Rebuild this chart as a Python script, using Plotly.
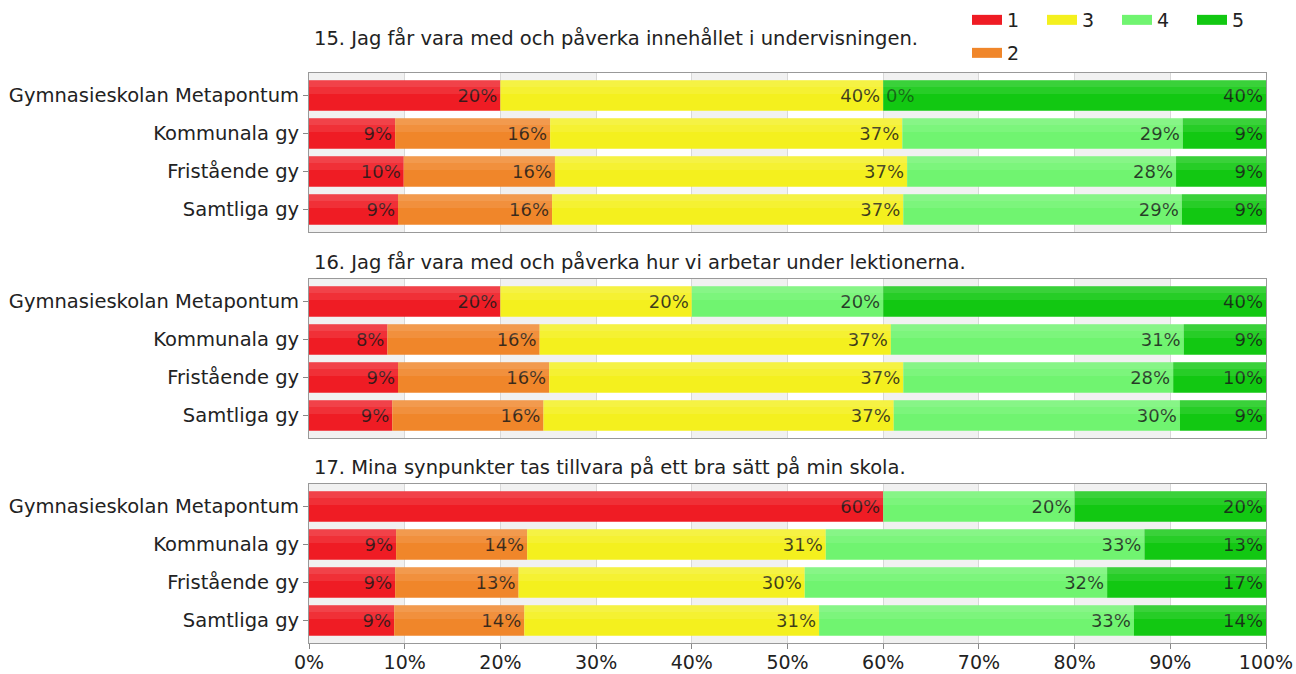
import plotly.graph_objects as go

categories = ["Gymnasieskolan Metapontum", "Kommunala gy", "Fristående gy", "Samtliga gy"]
levels = ["1", "2", "3", "4", "5"]
titles = [
    "15. Jag får vara med och påverka innehållet i undervisningen.",
    "16. Jag får vara med och påverka hur vi arbetar under lektionerna.",
    "17. Mina synpunkter tas tillvara på ett bra sätt på min skola.",
]

q15_l1 = [20, 9.0, 9.9, 9.3]
q15_l2 = [None, 16.2, 15.8, 16.1]
q15_l3 = [40, 36.8, 36.8, 36.7]
q15_l4 = [0, 29.3, 28.1, 29.1]
q15_l5 = [40, 8.7, 9.4, 8.8]

q16_l1 = [20, 8.2, 9.3, 8.7]
q16_l2 = [None, 15.9, 15.8, 15.8]
q16_l3 = [20, 36.7, 37.0, 36.6]
q16_l4 = [20, 30.6, 28.2, 29.9]
q16_l5 = [40, 8.6, 9.7, 9.0]

q17_l1 = [60, 9.1, 9.0, 8.9]
q17_l2 = [None, 13.7, 12.9, 13.6]
q17_l3 = [None, 31.2, 29.9, 30.8]
q17_l4 = [20, 33.3, 31.6, 32.9]
q17_l5 = [20, 12.7, 16.6, 13.8]

questions = [
    [q15_l1, q15_l2, q15_l3, q15_l4, q15_l5],
    [q16_l1, q16_l2, q16_l3, q16_l4, q16_l5],
    [q17_l1, q17_l2, q17_l3, q17_l4, q17_l5],
]

colors = ["#ef1c24", "#f0862a", "#f4f01e", "#70f470", "#12c812"]
legend_of = ["legend", "legend2", "legend", "legend", "legend"]

W, H = 1296, 674
ML, MR, MT, MB = 309, 30, 73, 31
PW = W - ML - MR
PH = H - MT - MB
panels_px = [(73, 232), (279, 438), (484, 643)]
title_px = [38, 262, 468]
FONT = "DejaVu Sans, Verdana, sans-serif"
BAR_W = 0.8
CAT_PAD = 0.59
GLOSS = [(0.45, "rgba(255,255,255,0.09)"), (0.22, "rgba(255,255,255,0.09)")]


def py(p):
    return (H - MB - p) / PH


def px_(p):
    return (p - ML) / PW


fig = go.Figure()
layout_axes = {}
shapes = []
annotations = []

# legend-only entries with wide rectangular swatches
for li in range(5):
    fig.add_trace(go.Scatter(
        x=[None], y=[None], mode="lines", name=levels[li],
        legendgroup=levels[li], legend=legend_of[li],
        line=dict(color=colors[li], width=15), hoverinfo="skip"))

for qi, series in enumerate(questions):
    xa = "x" if qi == 0 else f"x{qi+1}"
    ya = "y" if qi == 0 else f"y{qi+1}"
    cum = [0.0] * len(categories)
    for li, vals in enumerate(series):
        base = [round(c, 6) for c in cum]
        fig.add_trace(go.Bar(
            y=categories, x=vals, base=base, orientation="h",
            name=levels[li], legendgroup=levels[li], showlegend=False,
            width=BAR_W, offset=-BAR_W / 2,
            marker=dict(color=colors[li], line=dict(width=0)),
            texttemplate="%{x:.0f}%", textposition="inside",
            insidetextanchor="end", textangle=0, constraintext="none",
            textfont=dict(family=FONT, size=18, color="rgba(25,25,25,0.85)"),
            xaxis=xa, yaxis=ya, cliponaxis=False,
            hovertemplate="%{y}: %{x:.0f}%<extra>" + levels[li] + "</extra>",
        ))
        # subtle glossy highlight on the upper part of each segment
        for frac, gcol in GLOSS:
            fig.add_trace(go.Bar(
                y=categories, x=vals, base=base, orientation="h",
                legendgroup=levels[li], showlegend=False,
                width=BAR_W * frac, offset=-BAR_W / 2,
                marker=dict(color=gcol, line=dict(width=0)),
                xaxis=xa, yaxis=ya, hoverinfo="skip", cliponaxis=False,
            ))
        for ci, v in enumerate(vals):
            if v is None:
                continue
            if v == 0:
                annotations.append(dict(
                    x=base[ci], y=categories[ci], xref=xa, yref=ya, text="0%",
                    showarrow=False, xanchor="left", xshift=1,
                    font=dict(family=FONT, size=18, color="rgba(20,20,20,0.55)")))
            cum[ci] += v
    top, bot = panels_px[qi]
    axkey = "xaxis" if qi == 0 else f"xaxis{qi+1}"
    aykey = "yaxis" if qi == 0 else f"yaxis{qi+1}"
    layout_axes[axkey] = dict(
        domain=[0, 1], anchor=ya, range=[0, 100], dtick=10, ticksuffix="%",
        showticklabels=(qi == 2), ticks="outside" if qi == 2 else "", ticklen=5,
        ticklabelstandoff=-3,
        tickcolor="#888", showgrid=True, gridcolor="#d8d8d8", gridwidth=1,
        showline=True, linecolor="#999", linewidth=1, mirror=True, zeroline=False,
        tickfont=dict(family=FONT, size=19, color="#222"), automargin=False,
        matches="x" if qi > 0 else None,
    )
    layout_axes[aykey] = dict(
        type="category", categoryorder="array", categoryarray=categories,
        domain=[py(bot), py(top)], anchor=xa,
        range=[len(categories) - 1 + CAT_PAD, -CAT_PAD],
        ticks="outside", ticklen=5, tickcolor="#888", automargin=False,
        showline=True, linecolor="#999", linewidth=1, mirror=True,
        tickfont=dict(family=FONT, size=19.5, color="#222"),
    )
    for b in range(0, 100, 20):
        shapes.append(dict(type="rect", xref=xa, yref=f"{ya} domain",
                           x0=b, x1=b + 10, y0=0, y1=1, fillcolor="#f1f1f1",
                           line=dict(width=0), layer="below"))
    annotations.append(dict(
        x=0, y=py(title_px[qi]), xref="paper", yref="paper", xanchor="left",
        yanchor="middle", xshift=3, text=titles[qi], showarrow=False,
        font=dict(family=FONT, size=19.5, color="#222")))

legend_common = dict(orientation="h", xanchor="left", yanchor="top",
                     entrywidth=30, itemwidth=30, bgcolor="rgba(0,0,0,0)",
                     font=dict(family=FONT, size=19, color="#222"))

fig.update_layout(
    width=W, height=H,
    margin=dict(l=ML, r=MR, t=MT, b=MB, autoexpand=False),
    barmode="overlay",
    plot_bgcolor="white", paper_bgcolor="white",
    font=dict(family=FONT, size=18, color="#222"),
    legend=dict(x=px_(967), y=py(1), **legend_common),
    legend2=dict(x=px_(967), y=py(34), **legend_common),
    shapes=shapes, annotations=annotations,
    **layout_axes,
)

fig.write_html("out.html", config={"displayModeBar": False},
               post_script="document.body.style.margin='0';document.body.style.overflow='hidden';")
